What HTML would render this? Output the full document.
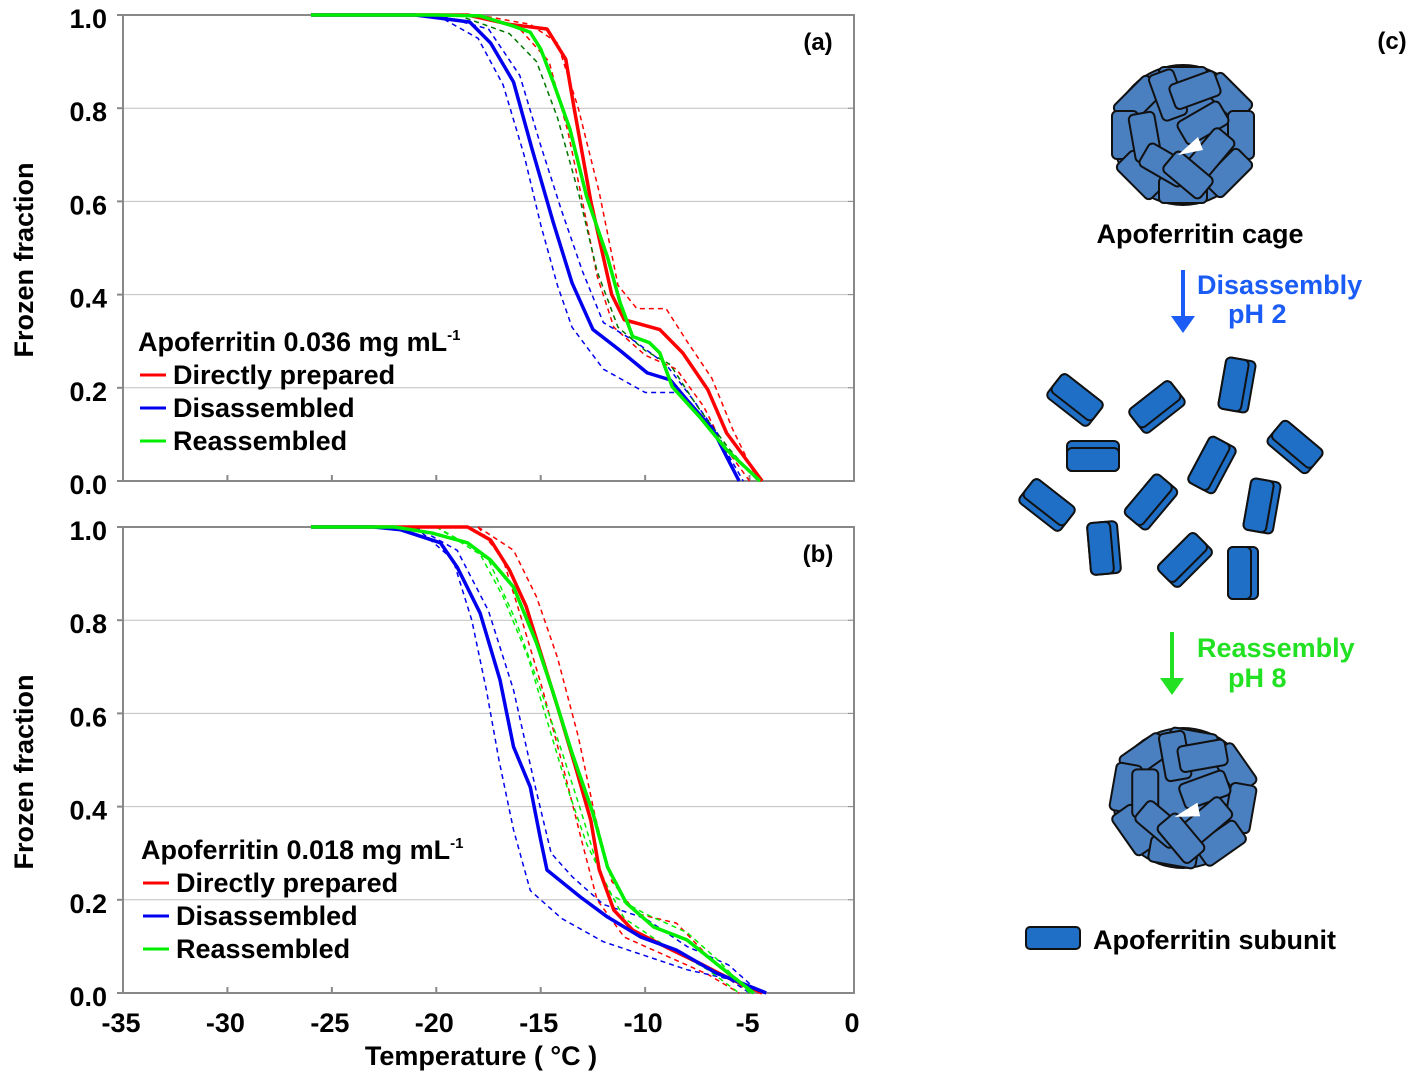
<!DOCTYPE html>
<html><head><meta charset="utf-8">
<style>
body{margin:0;background:#fff;}
svg{display:block;font-family:"Liberation Sans",Arial,sans-serif;font-weight:bold;}
</style></head>
<body>
<svg id="fig" width="1420" height="1082" viewBox="0 0 1420 1082">
<defs>
<g id="sub1"><rect x="-24" y="-13" width="48" height="26" rx="5" fill="#4a7fc0" stroke="#111" stroke-width="2"/></g>
<g id="sub2"><rect x="-26" y="-15" width="52" height="30" rx="5" fill="#1f6fc6" stroke="#111" stroke-width="2"/><rect x="-26" y="-15" width="52" height="23" rx="5" fill="#1f6fc6" stroke="#111" stroke-width="2"/></g>
<g id="cage">
<circle r="70" fill="#4a7fc0" stroke="#111" stroke-width="2"/>
<use href="#sub1" transform="translate(0,-55)"/>
<use href="#sub1" transform="translate(-45,-35) rotate(-45)"/>
<use href="#sub1" transform="translate(45,-38) rotate(45)"/>
<use href="#sub1" transform="translate(-58,0) rotate(90)"/>
<use href="#sub1" transform="translate(58,0) rotate(90)"/>
<use href="#sub1" transform="translate(-42,40) rotate(45)"/>
<use href="#sub1" transform="translate(45,38) rotate(-45)"/>
<use href="#sub1" transform="translate(0,55)"/>
<use href="#sub1" transform="translate(-15,-40) rotate(70)"/>
<use href="#sub1" transform="translate(12,-45) rotate(-20)"/>
<use href="#sub1" transform="translate(-38,2) rotate(80)"/>
<use href="#sub1" transform="translate(20,-12) rotate(-30)"/>
<use href="#sub1" transform="translate(-18,30) rotate(30)"/>
<use href="#sub1" transform="translate(28,18) rotate(-50)"/>
<use href="#sub1" transform="translate(5,40) rotate(40)"/>
<polygon points="-5,20 15,2 20,15" fill="#fff"/>
</g>
</defs>
<g id="plots"></g>
<!-- panel c -->
<text x="1392" y="49" font-size="24" text-anchor="middle">(c)</text>
<use href="#cage" transform="translate(1183,135)"/>
<text x="1200" y="243" font-size="27" text-anchor="middle">Apoferritin  cage</text>
<g><line x1="1183" y1="270" x2="1183" y2="318" stroke="#1a5cf5" stroke-width="4"/><polygon points="1171,316 1195,316 1183,333" fill="#1a5cf5"/></g>
<text x="1197" y="294" font-size="27" fill="#1a5cf5">Disassembly</text>
<text x="1228" y="323" font-size="27" fill="#1a5cf5">pH 2</text>
<g>
<use href="#sub2" transform="translate(1075,400) rotate(38)"/>
<use href="#sub2" transform="translate(1157,407) rotate(-38)"/>
<use href="#sub2" transform="translate(1237,385) rotate(-80)"/>
<use href="#sub2" transform="translate(1295,447) rotate(40)"/>
<use href="#sub2" transform="translate(1093,456) rotate(180)"/>
<use href="#sub2" transform="translate(1212,465) rotate(-62)"/>
<use href="#sub2" transform="translate(1151,502) rotate(-50)"/>
<use href="#sub2" transform="translate(1047,505) rotate(38)"/>
<use href="#sub2" transform="translate(1262,506) rotate(-80)"/>
<use href="#sub2" transform="translate(1104,548) rotate(-95)"/>
<use href="#sub2" transform="translate(1185,560) rotate(-45)"/>
<use href="#sub2" transform="translate(1243,573) rotate(-90)"/>
</g>
<g><line x1="1172" y1="632" x2="1172" y2="680" stroke="#22e022" stroke-width="4"/><polygon points="1160,678 1184,678 1172,695" fill="#22e022"/></g>
<text x="1197" y="657" font-size="27" fill="#22e022">Reassembly</text>
<text x="1228" y="687" font-size="27" fill="#22e022">pH 8</text>
<use href="#cage" transform="translate(1183,798) rotate(10)"/>
<rect x="1026" y="927" width="54" height="22" rx="4" fill="#1f6fc6" stroke="#111" stroke-width="2"/>
<text x="1093" y="949" font-size="27">Apoferritin subunit</text>
<text x="481" y="1065" font-size="27" text-anchor="middle">Temperature ( °C )</text>
</svg>
<script>
// Panel (a) data: [temperature °C, frozen fraction]
const aRed=[[-26,1],[-18.5,1],[-16.5,0.98],[-14.7,0.97],[-13.8,0.905],[-13.4,0.8],[-12.6,0.6],[-11.6,0.4],[-11.0,0.346],[-9.3,0.325],[-8.2,0.275],[-7.0,0.196],[-6.1,0.103],[-4.4,0]];
const aBlue=[[-26,1],[-21,1],[-18.4,0.985],[-17.4,0.94],[-16.3,0.856],[-15.4,0.71],[-14.4,0.555],[-13.5,0.425],[-12.5,0.325],[-11.2,0.28],[-9.9,0.232],[-8.8,0.217],[-8.0,0.174],[-6.75,0.11],[-6.1,0.052],[-5.5,0]];
const aGreen=[[-26,1],[-20,1],[-17.9,0.998],[-16.3,0.976],[-15.5,0.963],[-15.0,0.927],[-14.4,0.856],[-13.6,0.755],[-12.8,0.61],[-11.8,0.48],[-11.2,0.383],[-10.6,0.31],[-9.8,0.297],[-9.3,0.275],[-8.7,0.202],[-7.4,0.138],[-6.1,0.067],[-4.5,0]];
const aRedD1=[[-18,1],[-15.5,0.98],[-14.2,0.94],[-13.2,0.8],[-12.2,0.62],[-11.3,0.42],[-10.4,0.37],[-9.0,0.37],[-8.0,0.3],[-6.8,0.22],[-5.8,0.11],[-4.6,0]];
const aRedD2=[[-18,1],[-16,0.97],[-14.6,0.9],[-13.7,0.75],[-13.0,0.6],[-12.3,0.44],[-11.5,0.33],[-10,0.27],[-8.5,0.24],[-7.2,0.16],[-6.3,0.08],[-5,0]];
const aBlueD1=[[-20,1],[-18,0.95],[-16.8,0.85],[-15.8,0.7],[-15.0,0.55],[-14.2,0.42],[-13.5,0.33],[-12,0.24],[-10,0.19],[-8.5,0.19],[-7.5,0.15],[-6.2,0.07],[-5.3,0]];
const aBlueD2=[[-20,1],[-17.5,0.97],[-16,0.87],[-15,0.72],[-14,0.58],[-13.0,0.45],[-12,0.34],[-10.5,0.3],[-9,0.25],[-7.8,0.18],[-6.5,0.1],[-5.5,0]];
const aGreenD1=[[-19,1],[-16.5,0.96],[-15.2,0.9],[-14.2,0.78],[-13.2,0.62],[-12.3,0.45],[-11.3,0.33],[-10,0.28],[-8.8,0.25],[-7.5,0.16],[-6,0.07],[-4.6,0]];
// Panel (b) data
const bRed=[[-26,1],[-18.5,1],[-17.4,0.972],[-16.5,0.908],[-15.7,0.83],[-14.9,0.715],[-14.1,0.6],[-13.3,0.48],[-12.6,0.37],[-12.2,0.265],[-11.5,0.178],[-10.6,0.135],[-8.7,0.092],[-7.4,0.064],[-6.1,0.034],[-4.4,0]];
const bBlue=[[-26,1],[-23,1],[-21.7,0.994],[-19.8,0.966],[-19.0,0.914],[-17.9,0.815],[-16.95,0.672],[-16.3,0.528],[-15.5,0.442],[-15.0,0.328],[-14.7,0.264],[-13.1,0.206],[-11.8,0.163],[-10.2,0.12],[-8.5,0.092],[-6.6,0.043],[-4.2,0]];
const bGreen=[[-26,1],[-22,1],[-20.2,0.987],[-18.5,0.966],[-17.4,0.929],[-16.3,0.871],[-15.2,0.751],[-14.4,0.644],[-13.5,0.515],[-12.5,0.386],[-11.8,0.27],[-10.9,0.193],[-9.6,0.142],[-8.0,0.114],[-6.4,0.056],[-4.8,0]];
const bRedD1=[[-18,1],[-16.3,0.95],[-15.2,0.85],[-14.2,0.72],[-13.2,0.55],[-12.4,0.38],[-11.6,0.24],[-10.4,0.17],[-8.5,0.15],[-6.8,0.07],[-5,0]];
const bRedD2=[[-18,1],[-16.8,0.93],[-15.9,0.8],[-14.9,0.65],[-13.9,0.48],[-13.0,0.32],[-12.3,0.2],[-11,0.12],[-9,0.08],[-7,0.04],[-5.5,0]];
const bBlueD1=[[-21,1],[-19,0.95],[-17.5,0.82],[-16.3,0.65],[-15.3,0.45],[-14.5,0.3],[-13.5,0.25],[-12,0.19],[-10,0.16],[-8,0.1],[-6,0.06],[-4.5,0]];
const bBlueD2=[[-21,1],[-19.2,0.93],[-18.3,0.8],[-17.6,0.65],[-17.0,0.5],[-16.3,0.35],[-15.5,0.22],[-14,0.16],[-12,0.11],[-10,0.08],[-8,0.05],[-6,0.03],[-5,0]];
const bGreenD1=[[-20,1],[-18,0.95],[-16.8,0.85],[-15.6,0.72],[-14.8,0.6],[-13.8,0.45],[-12.8,0.32],[-11.6,0.21],[-10,0.17],[-8,0.13],[-6.5,0.07],[-5,0]];
const bGreenD2=[[-20,1],[-17.5,0.93],[-16.2,0.8],[-15.0,0.65],[-14.0,0.52],[-13.0,0.38],[-12.2,0.26],[-11,0.16],[-9,0.1],[-7,0.05],[-5.5,0]];
const yTicks=[0,0.2,0.4,0.6,0.8,1.0];
const xTicks=[-35,-30,-25,-20,-15,-10,-5,0];

const NS="http://www.w3.org/2000/svg";
const root=document.getElementById('plots');
const X0=123,X1=854,XMIN=-35,XMAX=0;
function mk(tag,attrs,parent){const e=document.createElementNS(NS,tag);for(const k in attrs)e.setAttribute(k,attrs[k]);parent.appendChild(e);return e;}
function panel(top,bottom,label,conc,legY,legX,series,showX){
  const g=mk('g',{},root);
  
  
  const sx=t=>X0+(t-XMIN)/(XMAX-XMIN)*(X1-X0);
  const sy=f=>bottom-f*(bottom-top);
  yTicks.forEach(v=>{
    if(v>0&&v<1){const l=mk('line',{x1:X0,x2:X1,y1:sy(v),y2:sy(v),stroke:'#c0c0c0','stroke-width':1},g);
    
    }
    mk('line',{x1:X0-6,x2:X0,y1:sy(v),y2:sy(v),stroke:'#888','stroke-width':2},g);
    mk('line',{x1:X1-6,x2:X1,y1:sy(v),y2:sy(v),stroke:'#888','stroke-width':1},g);
    const t=mk('text',{x:107,y:sy(v)+13,'font-size':27,'text-anchor':'end'},g);t.textContent=v.toFixed(1);
    
    
  });
  xTicks.forEach(v=>{
    mk('line',{x1:sx(v),x2:sx(v),y1:bottom,y2:bottom-6,stroke:'#888','stroke-width':2},g);
    if(showX){const t=mk('text',{x:sx(v)-2,y:1032,'font-size':27,'text-anchor':'middle'},g);t.textContent=v;
    
    }
  });
  const fr=mk('rect',{x:X0,y:top,width:X1-X0,height:bottom-top,fill:'none',stroke:'#888','stroke-width':2},g);
  
  
  series.forEach(s=>{
    const p=mk('polyline',{points:s.d.map(q=>sx(q[0])+','+sy(q[1])).join(' '),fill:'none',stroke:s.c,'stroke-width':s.dash?1.5:3.5,'stroke-dasharray':s.dash?'5,4':'none','stroke-linejoin':'round'},g);
    
    
  });
  const yt=mk('text',{x:0,y:0,'font-size':27,'text-anchor':'middle',transform:`translate(33,${(top+bottom)/2+12}) rotate(-90)`},g);
  yt.textContent='Frozen  fraction';
  
  
  const pl=mk('text',{x:818,y:top+35,'font-size':24,'text-anchor':'middle'},g);pl.textContent='('+label+')';
  
  
  const lt=mk('text',{x:legX-2,y:legY,'font-size':27},g);
  lt.innerHTML='Apoferritin '+conc+' mg mL<tspan dy="-11" font-size="15">-1</tspan>';
  
  
  [['Directly prepared','#ff0000'],['Disassembled','#0000ee'],['Reassembled','#00ee00']].forEach((e,i)=>{
    const y=legY+33*(i+1);
    const le=mk('g',{},g);
    
    
    mk('line',{x1:legX,x2:legX+26,y1:y-9,y2:y-9,stroke:e[1],'stroke-width':3},le);
    const t=mk('text',{x:legX+33,y:y,'font-size':27},le);t.textContent=e[0];
  });
}
panel(15,481,'a','0.036',351,140,[
 {d:aRedD1,c:'#ff0000',dash:1,n:'red-replicate'},{d:aRedD2,c:'#ff0000',dash:1,n:'red-replicate'},
 {d:aBlueD1,c:'#0000ee',dash:1,n:'blue-replicate'},{d:aBlueD2,c:'#0000ee',dash:1,n:'blue-replicate'},
 {d:aGreenD1,c:'#007700',dash:1,n:'green-replicate'},
 {d:aRed,c:'#ff0000',n:'directly-prepared-line'},{d:aBlue,c:'#0000ee',n:'disassembled-line'},{d:aGreen,c:'#00ee00',n:'reassembled-line'}],false);
panel(527,993,'b','0.018',859,143,[
 {d:bRedD1,c:'#ff0000',dash:1,n:'red-replicate'},{d:bRedD2,c:'#ff0000',dash:1,n:'red-replicate'},
 {d:bBlueD1,c:'#0000ee',dash:1,n:'blue-replicate'},{d:bBlueD2,c:'#0000ee',dash:1,n:'blue-replicate'},
 {d:bGreenD1,c:'#00ee00',dash:1,n:'green-replicate'},{d:bGreenD2,c:'#00ee00',dash:1,n:'green-replicate'},
 {d:bRed,c:'#ff0000',n:'directly-prepared-line'},{d:bBlue,c:'#0000ee',n:'disassembled-line'},{d:bGreen,c:'#00ee00',n:'reassembled-line'}],true);
</script>
</body></html>
